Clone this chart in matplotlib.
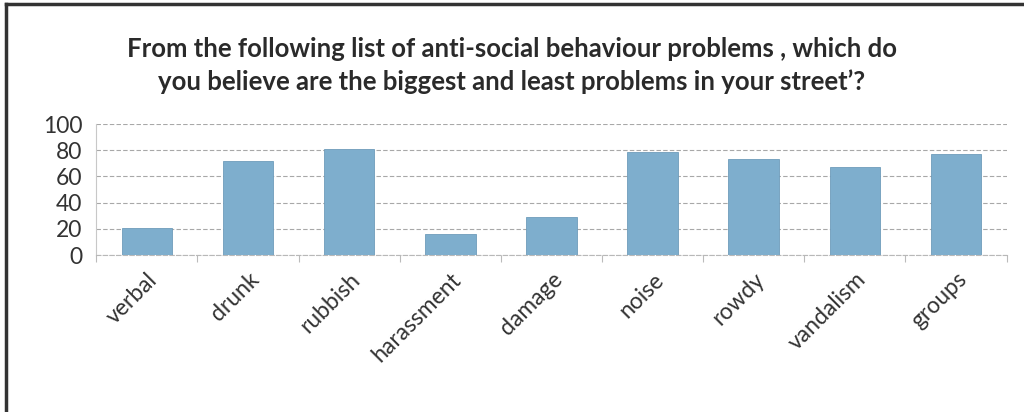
import matplotlib
matplotlib.use('Agg')
import matplotlib.pyplot as plt
from matplotlib.lines import Line2D

# Survey results
categories = ['verbal', 'drunk', 'rubbish', 'harassment', 'damage',
              'noise', 'rowdy', 'vandalism', 'groups']
values = [21, 72, 81, 16, 29, 79, 73, 67, 77]
y_ticks = [0, 20, 40, 60, 80, 100]

title = ('From the following list of anti-social behaviour problems , which do\n'
         'you believe are the biggest and least problems in your street\u2019?')

plt.rcParams['font.family'] = ['Lato', 'DejaVu Sans']

fig = plt.figure(figsize=(10.24, 4.12), dpi=100)
ax = fig.add_axes([0.094, 0.381, 0.889, 0.318])

x = range(len(categories))
ax.bar(x, values, width=0.5, color='#7eaecd', edgecolor='#6f9cba', linewidth=0.6, zorder=3)

ax.set_xlim(-0.5, len(categories) - 0.5)
ax.set_ylim(0, 100)
ax.set_yticks(y_ticks)
ax.set_yticklabels([str(t) for t in y_ticks], fontsize=16.5, color='#333333')
ax.tick_params(axis='y', length=0, pad=10)

# Category boundary ticks on the x axis, labels at the bar centres
ax.set_xticks([i - 0.5 for i in range(len(categories) + 1)])
ax.set_xticklabels([])
ax.set_xticks(list(x), minor=True)
ax.set_xticklabels(categories, minor=True, rotation=45, ha='right',
                   rotation_mode='anchor', fontsize=16.5, color='#333333')
ax.tick_params(axis='x', which='major', length=5, color='#bbbbbb', direction='out')
ax.tick_params(axis='x', which='minor', length=0, pad=10)

ax.grid(axis='y', color='#a8a8a8', linestyle=(0, (4, 2)), linewidth=0.8, zorder=0)
for side in ['top', 'right']:
    ax.spines[side].set_visible(False)
ax.spines['left'].set_color('#c8c8c8')
ax.spines['bottom'].set_color('#b8b8b8')
ax.spines['bottom'].set_linestyle((0, (4, 2)))

fig.text(0.5, 0.842, title, ha='center', va='center', fontsize=18.5,
         fontweight='bold', color='#2a2a2a', linespacing=1.4)

# Scan border on the left and top edges
fig.add_artist(Line2D([0.006, 0.006], [0.0, 0.99], transform=fig.transFigure,
                      color='#333333', linewidth=2.5))
fig.add_artist(Line2D([0.006, 1.0], [0.99, 0.99], transform=fig.transFigure,
                      color='#333333', linewidth=2.5))

fig.savefig('out.png', dpi=100)
